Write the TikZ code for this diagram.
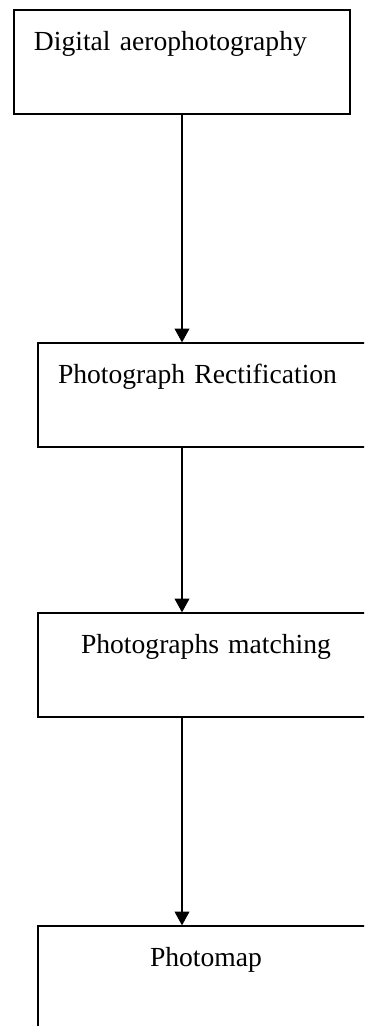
\documentclass[tikz,border=0pt]{standalone}
\usepackage{fontspec}
\setmainfont{Liberation Serif}
\usepackage{tikz}
\usetikzlibrary{arrows.meta}

\begin{document}
\begin{tikzpicture}[x=0.4348pt, y=0.4348pt]
\tikzstyle{block} = [rectangle, draw, line width=0.6pt, minimum width=146.1pt, minimum height=45.2pt, text width=128.7pt, inner xsep=8.7pt, inner ysep=0pt, text height=17.4pt, text depth=27.8pt, font=\fontsize{12pt}{14pt}\selectfont]
\tikzstyle{arrow} = [line width=0.45pt, -{Triangle[length=6pt, width=6.5pt]}]

\useasboundingbox (0,0) rectangle (364,-1026);
\clip (0,0) rectangle (364,-1026);

\node[block, align=left] (aerophoto) at (182,-62) {Digital aerophotography};
\node[block, align=left] (rectify) at (206,-395) {Photograph Rectification};
\node[block, align=center] (matching) at (206,-665) {Photographs matching};
\node[block, align=center] (photomap) at (206,-978) {Photomap};

\draw[arrow] (aerophoto.south) -- (aerophoto.south |- rectify.north);
\draw[arrow] (rectify.south -| aerophoto.south) -- (aerophoto.south |- matching.north);
\draw[arrow] (matching.south -| aerophoto.south) -- (aerophoto.south |- photomap.north);
\end{tikzpicture}
\end{document}
